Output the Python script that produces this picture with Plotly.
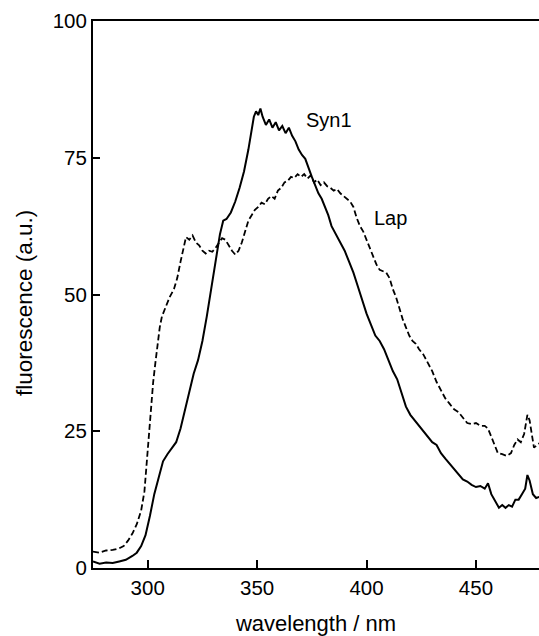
import plotly.graph_objects as go

# Syn1 (solid line)
syn1_wl = [275, 278, 281, 284, 287, 290, 293, 295, 297, 299, 301, 303, 305, 307, 309, 311, 313, 315, 317, 319,
           321, 323, 325, 327, 329, 331, 333, 334.5, 336, 338, 340, 342, 344, 346, 347.5, 348.5, 349.5, 350.5,
           351.5, 352.5, 354, 355.5, 357, 358.5, 360, 361.5, 363, 364.5, 366, 367.5, 369, 370.5, 372, 373.5,
           375, 376.5, 378, 379.5, 381, 382.5, 384, 386, 388, 390, 392, 394, 396, 398, 400, 402, 404, 406,
           408, 410, 412, 414, 416, 418, 420, 422, 424, 426, 428, 430, 432, 434, 436, 438, 440, 442, 444, 446,
           448, 450, 452, 454, 455.5, 457, 459, 460.5, 462, 463.5, 465, 466.5, 468, 469.5, 471, 472.5, 473.5,
           474.5, 476, 477.5, 479]
syn1_val = [1.2, 0.8, 1.0, 0.9, 1.2, 1.5, 2.2, 2.8, 4.0, 6.0, 9.5, 13.5, 16.5, 19.5, 20.8, 21.8, 23.0, 25.5, 29.0, 32.5,
            35.5, 38.0, 41.5, 46.0, 51.0, 56.5, 61.0, 63.5, 63.8, 65.0, 67.0, 69.5, 72.5, 76.5, 80.0, 82.5, 83.5, 82.8,
            84.0, 82.5, 81.0, 82.0, 80.5, 81.5, 80.0, 80.8, 79.5, 80.5, 79.0, 78.0, 76.5, 75.5, 74.8, 73.0,
            71.5, 70.0, 68.5, 67.5, 66.0, 64.5, 62.5, 61.0, 59.5, 58.0, 56.0, 54.0, 51.5, 49.0, 46.5, 44.5, 42.5, 41.5,
            40.0, 38.0, 36.0, 34.5, 32.0, 29.5, 28.0, 27.0, 25.8, 24.8, 23.8, 23.0, 22.5, 21.0, 20.0, 19.0, 18.0, 17.0, 16.2, 15.8,
            15.2, 14.8, 15.0, 14.5, 15.5, 13.5, 12.0, 11.0, 11.5, 11.0, 11.5, 11.2, 12.5, 12.5, 13.5, 14.5, 17.0,
            16.0, 13.5, 12.8, 13.0]

# Lap (dashed line)
lap_wl = [275, 278, 281, 284, 287, 289, 291, 293, 295, 297, 298.5, 299.5, 300.5, 301.5, 302.5, 303.5, 304.5, 305.5,
          306.5, 308, 310, 312, 313.5, 315, 316.5, 317.5, 319, 320.5, 322, 323.5, 325, 326.5, 328, 329.5, 331,
          332.5, 334, 335.5, 337, 338.5, 340, 341.5, 343, 344.5, 346, 347.5, 349, 350.5, 352, 353.5, 355, 356.5,
          358, 359.5, 361, 362.5, 364, 365.5, 367, 368.5, 370, 371.5, 373, 374.5, 376, 377.5, 379, 380.5, 382,
          383.5, 385, 386.5, 388, 389.5, 391, 392.5, 394, 395.5, 397, 398.5, 400, 401.5, 403, 404.5, 406, 407.5,
          409, 410.5, 412, 413.5, 415, 416.5, 418, 419.5, 421, 422.5, 424, 426, 428, 430, 432, 434, 436, 438,
          440, 442, 444, 446, 448, 450, 452, 454, 455.5, 457, 458.5, 460, 462, 464, 466, 467.5, 469, 470.5,
          472, 473.5, 474.5, 475.5, 476.5, 478, 479]
lap_val = [3.0, 2.8, 3.2, 3.3, 3.6, 4.0, 5.0, 6.3, 8.0, 10.5, 14.0, 19.0, 25.0, 30.0, 34.0, 37.5, 41.0, 44.0,
           46.0, 47.5, 49.5, 51.0, 53.0, 56.0, 59.0, 60.5, 60.0, 60.8, 59.5, 59.0, 58.0, 57.5, 58.0, 57.8, 58.5,
           59.5, 60.3, 60.0, 59.0, 58.0, 57.3, 58.0, 59.5, 61.5, 63.5, 64.5, 65.5, 66.0, 66.8, 66.5, 67.5, 68.0,
           67.5, 69.0, 69.5, 70.5, 70.8, 71.5, 71.3, 72.0, 71.5, 72.0, 71.2, 71.8, 70.5, 71.0, 70.0, 70.5, 69.8,
           69.5, 69.0, 69.3, 68.5, 68.0, 67.5, 67.0, 66.0, 64.0, 62.5, 61.5, 60.0, 58.5, 57.0, 55.5, 54.5, 54.2,
           54.0, 53.0, 51.0, 49.5, 47.5, 45.5, 44.0, 42.5, 41.5, 41.0, 40.0, 39.0, 37.5, 36.0, 34.0, 32.5, 31.0, 30.0,
           29.0, 28.5, 27.5, 26.5, 26.3, 26.5, 26.0, 26.0, 25.5, 24.0, 22.5, 21.0, 20.8, 20.5, 21.0, 22.5, 23.5, 23.0,
           24.5, 28.0, 27.0, 24.5, 22.0, 22.5, 22.8]

x_ticks = [300, 350, 400, 450]
y_ticks = [0, 25, 50, 75, 100]

FONT = "Liberation Sans, Arial, sans-serif"

fig = go.Figure()
fig.add_trace(go.Scatter(x=lap_wl, y=lap_val, mode="lines", name="Lap",
                         line=dict(color="black", width=1.8, dash="6px,3px")))
fig.add_trace(go.Scatter(x=syn1_wl, y=syn1_val, mode="lines", name="Syn1",
                         line=dict(color="black", width=2)))

fig.add_annotation(x=371.5, y=81.9, text="Syn1", showarrow=False, xanchor="left", yanchor="middle",
                   font=dict(family=FONT, size=20, color="black"))
fig.add_annotation(x=402.5, y=63.9, text="Lap", showarrow=False, xanchor="left", yanchor="middle",
                   font=dict(family=FONT, size=20, color="black"))
# y-axis title placed as rotated annotation to match reference position
fig.add_annotation(xref="paper", x=-0.155, yref="y", y=48.4, text="fluorescence (a.u.)", textangle=-90,
                   showarrow=False, xanchor="center", yanchor="middle",
                   font=dict(family=FONT, size=22.5, color="black"))

fig.update_layout(
    width=539, height=636,
    margin=dict(l=93, r=0, t=21, b=68),
    paper_bgcolor="white", plot_bgcolor="white",
    showlegend=False,
    font=dict(family=FONT, color="black"),
    xaxis=dict(range=[275, 478.8], tickvals=x_ticks, ticks="inside", ticklen=8, tickwidth=1.5,
               tickcolor="black", showline=True, linecolor="black", linewidth=2, mirror=True,
               showgrid=False, zeroline=False, tickfont=dict(size=20.5),
               title=dict(text="wavelength / nm", font=dict(size=22), standoff=18)),
    yaxis=dict(range=[0, 100], tickvals=y_ticks, ticks="inside", ticklen=7, tickwidth=1.5,
               tickcolor="black", showline=True, linecolor="black", linewidth=2, mirror=False,
               showgrid=False, zeroline=False, tickfont=dict(size=20.5)),
)

fig.write_html("out.html")
